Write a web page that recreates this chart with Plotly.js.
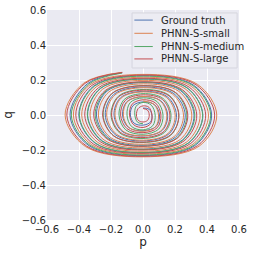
<!DOCTYPE html>
<html>
<head>
<meta charset="utf-8">
<script src="https://cdn.plot.ly/plotly-3.0.1.min.js"></script>
<style>html,body{margin:0;padding:0;background:#fff;}#chart{width:254px;height:254px;}</style>
</head>
<body>
<div id="chart"></div>
<script>
const seriesNames = ["Ground truth", "PHNN-S-small", "PHNN-S-medium", "PHNN-S-large"];
const seriesColors = ["#4C72B0", "#DD8452", "#55A868", "#C44E52"];
const tickVals = [-0.6, -0.4, -0.2, 0.0, 0.2, 0.4, 0.6];
const tickText = ["\u22120.6", "\u22120.4", "\u22120.2", "0.0", "0.2", "0.4", "0.6"];

const truthP = [-0.130,
 -0.347,-0.456,-0.337,0,0.327,0.429,0.317,0,
 -0.306,-0.401,-0.296,0,0.286,0.374,0.275,0,
 -0.265,-0.346,-0.254,0,0.245,0.319,0.234,0,
 -0.224,-0.291,-0.213,0,0.203,0.264,0.193,0,
 -0.182,-0.236,-0.172,0,0.162,0.209,0.152,0,
 -0.141,-0.181,-0.131,0,0.121,0.154,0.110,0,
 -0.101,-0.128,-0.091,0,0.082,0.103,0.072,0,
 -0.063,-0.079,-0.055,0,0.047,0.056,0.038,0];
const truthQ = [0.242,
 0.179,0,-0.176,-0.232,-0.173,0,0.170,0.225,
 0.167,0,-0.163,-0.215,-0.159,0,0.155,0.205,
 0.152,0,-0.148,-0.195,-0.144,0,0.140,0.185,
 0.137,0,-0.132,-0.173,-0.127,0,0.122,0.160,
 0.118,0,-0.113,-0.148,-0.108,0,0.104,0.135,
 0.098,0,-0.093,-0.120,-0.087,0,0.082,0.105,
 0.076,0,-0.071,-0.090,-0.065,0,0.059,0.075,
 0.053,0,-0.047,-0.058,-0.040,0,0.033,0.040];

const smallP = [-0.130,
 -0.370,-0.487,-0.360,0,0.351,0.461,0.341,0,
 -0.331,-0.435,-0.321,0,0.312,0.409,0.302,0,
 -0.292,-0.383,-0.282,0,0.273,0.357,0.263,0,
 -0.253,-0.331,-0.243,0,0.234,0.305,0.224,0,
 -0.214,-0.279,-0.204,0,0.195,0.253,0.185,0,
 -0.175,-0.227,-0.165,0,0.156,0.201,0.146,0,
 -0.136,-0.175,-0.126,0,0.117,0.149,0.107,0,
 -0.097,-0.123,-0.087,0,0.078,0.097,0.068,0];
const smallQ = [0.244,
 0.182,0,-0.180,-0.239,-0.178,0,0.175,0.232,
 0.173,0,-0.170,-0.224,-0.167,0,0.164,0.216,
 0.161,0,-0.157,-0.207,-0.154,0,0.150,0.198,
 0.147,0,-0.143,-0.188,-0.139,0,0.135,0.178,
 0.131,0,-0.128,-0.167,-0.123,0,0.119,0.156,
 0.115,0,-0.110,-0.144,-0.106,0,0.101,0.132,
 0.097,0,-0.092,-0.119,-0.087,0,0.082,0.106,
 0.077,0,-0.072,-0.093,-0.068,0,0.062,0.080];

const mediumP = [-0.130,
 -0.340,-0.448,-0.331,0,0.322,0.423,0.312,0,
 -0.303,-0.398,-0.294,0,0.285,0.373,0.275,0,
 -0.266,-0.348,-0.257,0,0.247,0.324,0.238,0,
 -0.229,-0.299,-0.219,0,0.210,0.274,0.201,0,
 -0.192,-0.249,-0.182,0,0.173,0.224,0.164,0,
 -0.154,-0.200,-0.145,0,0.136,0.175,0.126,0,
 -0.117,-0.150,-0.108,0,0.099,0.125,0.089,0,
 -0.080,-0.100,-0.071,0,0.061,0.076,0.052,0,
 -0.043,-0.051,-0.034,0];
const mediumQ = [0.240,
 0.176,0,-0.173,-0.229,-0.170,0,0.168,0.222,
 0.165,0,-0.162,-0.214,-0.159,0,0.156,0.206,
 0.153,0,-0.149,-0.197,-0.146,0,0.143,0.188,
 0.139,0,-0.135,-0.178,-0.132,0,0.128,0.168,
 0.124,0,-0.120,-0.157,-0.116,0,0.112,0.146,
 0.107,0,-0.103,-0.134,-0.098,0,0.094,0.122,
 0.089,0,-0.085,-0.110,-0.080,0,0.076,0.098,
 0.071,0,-0.066,-0.085,-0.061,0,0.056,0.072,
 0.050,0,-0.041,-0.050];

const largeP = [-0.130,
 -0.362,-0.476,-0.352,0,0.341,0.448,0.331,0,
 -0.320,-0.420,-0.310,0,0.299,0.392,0.289,0,
 -0.278,-0.364,-0.268,0,0.257,0.336,0.247,0,
 -0.236,-0.308,-0.226,0,0.215,0.280,0.205,0,
 -0.194,-0.252,-0.184,0,0.173,0.224,0.163,0,
 -0.152,-0.196,-0.142,0,0.131,0.168,0.121,0,
 -0.110,-0.140,-0.100,0,0.089,0.112,0.079,0,
 -0.068,-0.084,-0.058,0,0.047,0.056,0.037,0,
 -0.031,-0.041,-0.030,0,0.029,0.039,0.028,0];
const largeQ = [0.243,
 0.181,0,-0.178,-0.236,-0.175,0,0.173,0.228,
 0.169,0,-0.166,-0.219,-0.162,0,0.159,0.210,
 0.156,0,-0.152,-0.200,-0.148,0,0.144,0.190,
 0.140,0,-0.136,-0.179,-0.132,0,0.128,0.167,
 0.123,0,-0.119,-0.155,-0.113,0,0.109,0.142,
 0.104,0,-0.099,-0.129,-0.094,0,0.089,0.115,
 0.084,0,-0.078,-0.101,-0.073,0,0.068,0.087,
 0.062,0,-0.056,-0.071,-0.050,0,0.044,0.052,
 0.036,0,-0.030,-0.040,-0.030,0,0.028,0.037];

const allP = [truthP, smallP, mediumP, largeP];
const allQ = [truthQ, smallQ, mediumQ, largeQ];

const traces = seriesNames.map((name, i) => ({
  type: "scatter", mode: "lines", name: name,
  x: allP[i], y: allQ[i],
  line: {color: seriesColors[i], width: 1, shape: "spline", smoothing: 1.0}
}));

// hand-built legend (paper coordinates of the plot area)
const legRowsY = [0.952, 0.889, 0.826, 0.767];
const shapes = [{type: "rect", xref: "paper", yref: "paper", x0: 0.443, x1: 0.99, y0: 0.724, y1: 0.986,
  fillcolor: "#ECECF3", line: {color: "#D6D6DE", width: 1}, layer: "above"}];
const annotations = [];
seriesNames.forEach((name, i) => {
  shapes.push({type: "line", xref: "paper", yref: "paper", x0: 0.455, x1: 0.551, y0: legRowsY[i], y1: legRowsY[i],
    line: {color: seriesColors[i], width: 1}, layer: "above"});
  annotations.push({xref: "paper", yref: "paper", x: 0.585, y: legRowsY[i], xanchor: "left", yanchor: "middle",
    text: name, showarrow: false, font: {family: "DejaVu Sans", size: 10, color: "#262626"}});
});

const axisCommon = {
  range: [-0.6, 0.6], tickvals: tickVals, ticktext: tickText,
  showgrid: true, gridcolor: "#ffffff", gridwidth: 1, zeroline: false,
  showline: false, ticks: "", tickfont: {family: "DejaVu Sans", size: 10, color: "#262626"}
};

const layout = {
  width: 254, height: 254,
  margin: {l: 47, r: 15, t: 10, b: 34, pad: 0},
  paper_bgcolor: "#ffffff", plot_bgcolor: "#EAEAF2",
  font: {family: "DejaVu Sans", color: "#262626"},
  xaxis: Object.assign({}, axisCommon, {ticklabelstandoff: 2, title: {text: "p", font: {size: 12}, standoff: 3}}),
  yaxis: Object.assign({}, axisCommon, {title: {text: "q", font: {size: 12}, standoff: 6}}),
  showlegend: false,
  shapes: shapes,
  annotations: annotations
};

Plotly.newPlot("chart", traces, layout, {staticPlot: true, displayModeBar: false});
</script>
</body>
</html>
